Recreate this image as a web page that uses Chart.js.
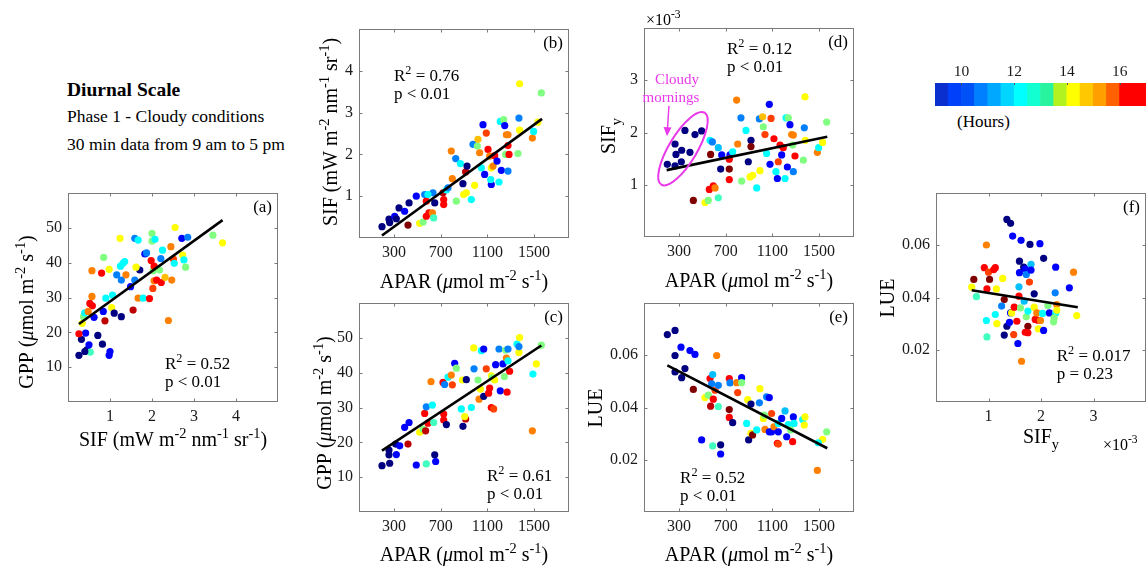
<!DOCTYPE html>
<html>
<head>
<meta charset="utf-8">
<script src="https://cdn.jsdelivr.net/npm/chart.js@4.4.1/dist/chart.umd.min.js"></script>
<style>
body { margin: 0; background: #fff; width: 1146px; height: 566px; overflow: hidden; position: relative;
       font-family: "Liberation Serif", "Times New Roman", serif; }
canvas { position: absolute; }
.txt { position: absolute; white-space: nowrap; color: #000; line-height: 1; }
</style>
</head>
<body>
<div class="txt" style="left:67px;top:80px;font-size:19.5px;font-weight:bold">Diurnal Scale</div>
<div class="txt" style="left:67px;top:108px;font-size:17.5px">Phase 1 - Cloudy conditions</div>
<div class="txt" style="left:67px;top:136px;font-size:17.5px">30 min data from 9 am to 5 pm</div>
<div class="txt" style="left:957px;top:113px;font-size:17px">(Hours)</div>
<script>
// ---- data: [x, y, hour of day] per panel ----
var sifGpp = [[0.26,13.4,9],[0.32,18.0,9],[0.42,19.8,10],[0.26,19.6,16],[0.45,15.0,9],[0.5,16.4,10],[0.53,14.3,12.5],[0.4,14.5,9],[0.71,19.1,9],[0.82,16.6,9],[1.0,14.5,10],[0.98,13.4,10],[0.34,22.6,14],[0.37,24.5,13],[0.4,25.6,12],[0.52,28.3,16],[0.58,27.6,16],[0.48,26,15],[0.57,30.3,15],[0.62,24.3,10],[0.57,37.7,15],[0.8,37,16],[0.85,41.5,13],[0.9,29.8,12],[1.06,30.7,12],[0.98,38.1,14],[1.04,27.1,14],[0.84,26,10],[0.88,23.3,16.5],[1.1,25.5,9],[1.27,24.5,9],[1.24,47,14],[1.16,36.5,11],[1.27,35,11],[1.31,39.8,12],[1.35,40.3,12],[1.25,39,12],[1.38,36.5,15],[1.49,33.1,10],[1.55,26.4,16.5],[1.59,47,11],[1.67,46.5,12],[1.59,35,11],[1.67,29.8,15],[1.71,37.9,9],[1.62,38.7,14],[1.79,29.8,12],[1.83,42.5,10],[1.87,42.8,11],[1.94,29.7,16],[1.98,40.6,16],[2.0,48.4,13],[2.0,46.2,13],[2.07,46.7,12],[2.02,32.6,15.5],[2.03,37.7,13],[2.05,34.8,15],[2.05,39,16],[2.11,35,16],[2.18,37.9,13],[2.22,34.3,16],[2.21,41.2,11],[2.25,43.6,12],[2.31,35.8,14.5],[2.39,23.4,15],[2.45,44.6,15],[2.47,35,15],[2.51,41,15.5],[2.53,39.8,12],[2.55,50.1,14],[2.71,47,10],[2.73,42.2,14],[2.76,40.8,12],[2.8,38.7,13],[2.85,47.3,11],[3.45,47.9,13],[3.68,45.7,14]];
var aparSif = [[197,0.27,9],[257,0.45,9],[263,0.37,9],[306,0.52,10],[320,0.46,9],[343,0.72,9],[391,0.64,10],[429,0.84,9],[491,1.0,10],[563,1.04,11],[634,1.08,11],[577,0.88,16],[591,1.04,12],[649,0.84,9],[420,0.31,17],[520,0.35,14],[549,0.38,13],[577,0.52,16],[600,0.6,16],[629,0.6,15],[640,0.48,12.5],[726,0.92,16],[726,0.8,16],[720,1.08,16.5],[749,1.15,12],[763,1.2,11],[800,1.42,15],[791,2.08,15],[829,1.9,11],[834,0.88,13],[869,1.78,12],[891,1.3,9],[897,1.04,14],[920,1.08,14],[914,1.58,16.5],[926,1.72,9],[963,0.92,12],[991,1.26,14],[977,2.24,11],[1014,2.2,13],[1020,2.36,14.5],[1034,2.04,15],[1049,1.68,12],[1063,2.71,10],[1077,1.52,10],[1091,2.51,15.5],[1106,2.12,16],[1120,1.96,15],[1134,1.68,14],[1149,1.72,15],[1134,1.28,10],[1129,1.4,12],[1163,1.97,16],[1183,1.84,10],[1200,1.34,12],[1211,2.79,12],[1240,2.83,13],[1249,2.69,10],[1220,1.62,10],[1257,2.0,13],[1263,2.47,15],[1277,2.47,15],[1277,2.21,16],[1286,2.0,16],[1277,1.6,11],[1371,2.87,11],[1363,2.02,13],[1377,3.69,14],[1377,2.58,14],[1486,2.39,15],[1497,2.55,12],[1534,2.77,14],[1563,3.47,13]];
var aparGpp = [[197,13.3,9],[257,17.8,9],[257,16.4,9],[263,14.0,9],[314,19.5,9],[320,16.5,10],[349,19.0,10],[391,24.3,10],[429,25.7,10],[420,19.5,16.5],[491,13.5,10],[520,22.9,14],[549,23.8,13],[577,13.8,12.5],[649,16.4,9],[657,14.5,10],[563,28.3,16],[571,23.3,16.5],[577,30.2,11],[629,30.7,12],[591,25.5,16],[617,37.4,15],[640,25.7,12.5],[720,37.2,16],[734,36.6,11],[726,28.1,16],[726,26.4,16],[749,25.1,9],[763,38.7,12],[791,39.3,15],[800,36.5,15.5],[820,42.7,10],[834,41.3,13],[877,29.6,12],[886,37.9,14],[920,38.0,9],[891,24.6,9],[914,26.7,16.5],[906,27.4,14],[963,30.0,12],[983,47.1,14],[986,41.1,11],[1020,37.9,13],[1029,32.4,15],[1040,35.3,14],[1049,46.3,12],[1069,46.8,10],[1069,33.2,9],[1091,41.1,15.5],[1111,34.1,16],[1120,35.6,16],[1134,30.0,16],[1154,29.6,15.5],[1134,39.1,14],[1143,38.5,13],[1163,37.9,14],[1171,42.3,10],[1200,46.8,11],[1211,34.8,10],[1234,42.5,10],[1246,38.9,13],[1257,46.5,13],[1263,44.2,15],[1277,46.8,11],[1277,43.4,12],[1269,34.4,16],[1291,40.4,16],[1354,48.2,12],[1377,50.1,14],[1371,45.8,14],[1371,47.5,11],[1486,23.3,15],[1520,42.5,14],[1491,39.6,12],[1563,47.9,13]];
var aparSify = [[200,1.39,9],[266,1.78,9],[274,1.58,9],[323,1.66,9],[266,1.36,9],[320,1.44,9],[351,2.04,9],[394,1.62,9],[437,1.96,9],[494,2.03,9],[423,0.70,17],[523,0.66,14],[551,0.70,13],[566,1.85,12],[586,1.82,11],[571,1.58,17],[560,0.91,16],[594,0.98,16],[609,0.94,15],[637,0.75,12.5],[637,1.71,11.5],[657,1.30,9],[666,1.57,10],[737,1.57,10],[731,1.30,17],[731,1.10,16],[731,1.49,16],[760,1.63,12],[803,1.78,15],[794,2.62,15],[831,2.28,11],[837,1.07,13],[874,2.04,12],[894,1.44,9],[917,1.85,9],[917,1.73,17],[909,1.15,14],[931,1.18,14],[966,0.94,12],[994,1.27,14],[989,2.26,11],[1017,2.30,14.5],[1023,2.11,13],[1037,1.96,15.5],[1051,1.60,12],[1074,2.54,10],[1080,1.39,10],[1089,2.27,15.5],[1114,1.88,16],[1131,1.25,12],[1143,1.12,10],[1151,1.44,15.5],[1166,1.76,16],[1180,1.57,10],[1194,1.71,16],[1209,1.12,12],[1217,2.28,12],[1229,1.34,10],[1237,2.28,13],[1251,2.15,10],[1266,1.96,15],[1280,1.25,11],[1280,1.95,15],[1274,1.76,13],[1294,1.55,16],[1366,1.47,13],[1380,2.68,14],[1374,2.09,11],[1383,1.85,14],[1486,1.62,15],[1497,1.71,12],[1531,1.81,14],[1566,2.20,13]];
var aparLue = [[200,0.0679,9],[266,0.0695,9],[266,0.0599,9],[317,0.0631,10],[266,0.0536,9],[323,0.0514,9],[351,0.0549,9],[394,0.0618,10],[437,0.0603,10],[423,0.0469,17],[494,0.0276,10],[523,0.0438,14],[551,0.0447,13],[566,0.0511,16],[580,0.0491,11],[589,0.0526,11.5],[571,0.0405,16.5],[594,0.0432,16],[609,0.0466,15.5],[589,0.0253,12.5],[623,0.0599,15],[637,0.0485,11],[637,0.0403,12.5],[657,0.0257,9],[657,0.0222,10],[731,0.0511,16],[737,0.0494,11],[731,0.0392,17],[731,0.0362,16],[760,0.0342,9],[794,0.0495,15],[803,0.0457,15.5],[837,0.0514,10],[837,0.0495,13],[880,0.0339,12],[889,0.0430,14],[897,0.0276,9],[917,0.0413,9],[917,0.0301,14],[931,0.0295,17],[966,0.0314,12],[989,0.0418,11],[994,0.0472,14],[1023,0.0358,14],[1031,0.0371,13],[1051,0.0441,11],[1074,0.0438,10],[1037,0.0316,15],[1074,0.0307,10],[1094,0.0377,15.5],[1094,0.0307,10],[1114,0.0326,15],[1143,0.0263,16],[1151,0.0260,15.5],[1151,0.0339,12],[1151,0.0307,10],[1180,0.0358,10],[1209,0.0387,11.5],[1223,0.0288,10],[1237,0.0335,12],[1257,0.0314,13],[1274,0.0269,16],[1280,0.0364,10],[1286,0.0339,12],[1360,0.0354,12],[1380,0.0364,14],[1374,0.0333,14],[1486,0.0159,15],[1531,0.0278,14],[1494,0.0265,12],[1566,0.0307,13]];
var sifyLue = [[1.35,0.0699,9],[1.42,0.0684,9],[1.46,0.0635,10],[1.62,0.0619,10],[1.79,0.0603,9],[1.98,0.0606,10],[2.05,0.0550,9],[2.28,0.0516,10],[2.54,0.0437,10],[2.62,0.0497,15],[2.68,0.0331,14],[0.96,0.0601,15],[0.72,0.0469,17],[0.68,0.0440,14],[0.77,0.0403,12.5],[0.92,0.0514,16],[1.0,0.0497,15.5],[1.1,0.0507,16],[1.13,0.0514,16],[1.02,0.0469,17],[0.97,0.0433,16],[1.15,0.0433,14],[1.27,0.0473,14],[1.30,0.0392,17],[1.25,0.0367,11],[0.96,0.0312,12],[0.97,0.0249,12.5],[1.13,0.0335,12],[1.16,0.0300,14],[1.30,0.0256,9],[1.35,0.0290,9],[1.40,0.0305,10],[1.42,0.0341,10],[1.44,0.0341,14],[1.48,0.0258,15.5],[1.49,0.0363,16],[1.54,0.0309,16],[1.56,0.0224,10],[1.58,0.0405,16],[1.58,0.0441,11.5],[1.59,0.0539,9],[1.61,0.0360,13],[1.59,0.0495,10],[1.67,0.0516,9],[1.70,0.0510,10],[1.72,0.0488,11],[1.68,0.0386,11.5],[1.72,0.0326,13],[1.75,0.0348,12],[1.75,0.0290,17],[1.75,0.0265,16],[1.70,0.0267,16],[1.78,0.0459,15.5],[1.81,0.0527,11.5],[1.81,0.0505,10],[1.87,0.0414,9],[1.87,0.0363,14],[1.89,0.0316,16],[1.92,0.0341,15],[1.94,0.0313,16],[1.95,0.0280,14],[1.99,0.0312,15],[2.03,0.0339,12],[2.05,0.0274,10],[2.13,0.0369,13],[2.16,0.0341,10],[2.24,0.0307,13],[2.27,0.0418,11],[2.28,0.0341,12],[2.30,0.0373,15],[2.30,0.0351,14],[2.25,0.0322,13],[1.63,0.0156,15]];

// fitted lines (end points)
var fitSifGpp = [[0.26,22.4],[3.68,52.2]];
var fitAparSif = [[197,0.06],[1569,2.85]];
var fitAparGpp = [[197,17.6],[1563,47.8]];
var fitAparSify = [[194,1.28],[1571,1.92]];
var fitAparLue = [[200,0.0561],[1571,0.0244]];
var fitSifyLue = [[0.68,0.0428],[2.70,0.0363]];

var statsR2 = ["0.52", "0.76", "0.61", "0.12", "0.52", "0.017"];
var statsP = ["p < 0.01", "p < 0.01", "p < 0.01", "p < 0.01", "p < 0.01", "p = 0.23"];

// tick labels
var sifTicks = [1, 2, 3, 4];
var gppTicks = [10, 20, 30, 40, 50];
var aparTicks = [300, 700, 1100, 1500];
var sifyTicks = [1, 2, 3];
var lueTicks = [0.02, 0.04, 0.06];

// colour bar
var hourBins = [9.25, 9.75, 10.25, 10.75, 11.25, 11.75, 12.25, 12.75, 13.25, 13.75, 14.25, 14.75, 15.25, 15.75, 16.25, 16.75];
var hourColors = ["#0b2fcf", "#0040fb", "#0052f6", "#0080ff", "#00a8ff", "#00d6ff", "#00ffff", "#12ffd2", "#28f4a0", "#b2f220", "#ffff00", "#ffc800", "#ffa000", "#ff6000", "#ff0000", "#ff0000"];
var hourTicks = [10, 12, 14, 16];

var FONT = '"Liberation Serif", "Times New Roman", serif';
var MAGENTA = "#e938e9";
Chart.defaults.font.family = FONT;

var BOX_W = 210, BOX_H = 209;
var M = { l: 80, t: 22, r: 14, b: 64 };

function jet(h) {
    var t = (h - 9) / 8;
    var c = function (v) { return Math.round(255 * Math.max(0, Math.min(1, v))); };
    return "rgb(" + c(1.5 - Math.abs(4 * t - 3)) + "," + c(1.5 - Math.abs(4 * t - 2)) + "," + c(1.5 - Math.abs(4 * t - 1)) + ")";
}

// text with super/subscripts; parts = [[text, kind], ...]
function drawRich(ctx, parts, x, y, size, align, rot, color) {
    ctx.save();
    ctx.translate(x, y);
    if (rot) ctx.rotate(rot);
    ctx.textBaseline = "alphabetic";
    ctx.textAlign = "left";
    ctx.fillStyle = color || "#000";
    var segs = parts.map(function (p) {
        var small = p[1] == "sup" || p[1] == "sub";
        var font = (p[1] == "it" ? "italic " : "") + (small ? size * 0.72 : size) + "px " + FONT;
        ctx.font = font;
        return { t: p[0], font: font, w: ctx.measureText(p[0]).width,
                 dy: p[1] == "sup" ? -size * 0.42 : (p[1] == "sub" ? size * 0.28 : 0) };
    });
    var total = segs.reduce(function (s, g) { return s + g.w; }, 0);
    var cx = align == "center" ? -total / 2 : (align == "right" ? -total : 0);
    for (var g of segs) {
        ctx.font = g.font;
        ctx.fillText(g.t, cx, g.dy);
        cx += g.w;
    }
    ctx.restore();
}

var gppTitle = [["GPP (", ""], ["\u03bc", "it"], ["mol m", ""], ["-2", "sup"], [" s", ""], ["-1", "sup"], [")", ""]];
var sifTitle = [["SIF (mW m", ""], ["-2", "sup"], [" nm", ""], ["-1", "sup"], [" sr", ""], ["-1", "sup"], [")", ""]];
var aparTitle = [["APAR (", ""], ["\u03bc", "it"], ["mol m", ""], ["-2", "sup"], [" s", ""], ["-1", "sup"], [")", ""]];
var sifyTitle = [["SIF", ""], ["y", "sub"]];
var lueTitle = [["LUE", ""]];
var expLabel = [["\u00d710", ""], ["-3", "sup"]];

function panelDecor(p) {
    return {
        id: "decor" + p.letter,
        afterDraw: function (chart) {
            var ctx = chart.ctx, a = chart.chartArea;
            var xs = chart.scales.x, ys = chart.scales.y;
            var L = Math.round(a.left) + 0.5, T = Math.round(a.top) + 0.5;
            var R = Math.round(a.right) - 0.5, B = Math.round(a.bottom) - 0.5;
            ctx.save();
            ctx.strokeStyle = "#7a7a7a";
            ctx.lineWidth = 1;
            ctx.strokeRect(L, T, R - L, B - T);
            ctx.beginPath();
            p.xTicks.forEach(function (v) {
                var px = Math.round(xs.getPixelForValue(v)) + 0.5;
                ctx.moveTo(px, B); ctx.lineTo(px, B - 3);
                ctx.moveTo(px, T); ctx.lineTo(px, T + 3);
            });
            p.yTicks.forEach(function (v) {
                var py = Math.round(ys.getPixelForValue(v)) + 0.5;
                ctx.moveTo(L, py); ctx.lineTo(L + 3, py);
                ctx.moveTo(R, py); ctx.lineTo(R - 3, py);
            });
            ctx.stroke();
            ctx.restore();

            // panel letter
            drawRich(ctx, [[p.letter, ""]], a.right - 6, a.top + 19, 17, "right");
            // statistics
            var sx = xs.getPixelForValue(p.statAt[0]), sy = ys.getPixelForValue(p.statAt[1]);
            drawRich(ctx, [["R", ""], ["2", "sup"], [" = " + p.r2, ""]], sx, sy, 17, "left");
            drawRich(ctx, [[p.pval, ""]], sx, sy + 18, 17, "left");
            // axis titles
            drawRich(ctx, p.xTitle, (a.left + a.right) / 2, a.bottom + p.xTitleDy, 20, "center");
            drawRich(ctx, p.yTitle, a.left - p.yTitleDx, a.top + p.yTitleCy, 20, "center", -Math.PI / 2);
            if (p.extra) p.extra(ctx, chart);
        }
    };
}

function cloudyNote(ctx, chart) {
    var xs = chart.scales.x, ys = chart.scales.y, a = chart.chartArea;
    drawRich(ctx, expLabel, a.left + 2, a.top - 3, 16, "left");
    drawRich(ctx, [["Cloudy", ""]], xs.getPixelForValue(283), ys.getPixelForValue(2.93), 15, "center", 0, MAGENTA);
    drawRich(ctx, [["mornings", ""]], xs.getPixelForValue(231), ys.getPixelForValue(2.58), 15, "center", 0, MAGENTA);
    var x0 = xs.getPixelForValue(214), y0 = ys.getPixelForValue(2.51);
    var x1 = xs.getPixelForValue(197), y1 = ys.getPixelForValue(1.93);
    var ang = Math.atan2(y1 - y0, x1 - x0);
    ctx.save();
    ctx.strokeStyle = MAGENTA;
    ctx.fillStyle = MAGENTA;
    ctx.lineWidth = 1.4;
    ctx.beginPath();
    ctx.moveTo(x0, y0);
    ctx.lineTo(x1 - 6 * Math.cos(ang), y1 - 6 * Math.sin(ang));
    ctx.stroke();
    ctx.beginPath();
    ctx.moveTo(x1, y1);
    ctx.lineTo(x1 - 9 * Math.cos(ang) + 4 * Math.sin(ang), y1 - 9 * Math.sin(ang) - 4 * Math.cos(ang));
    ctx.lineTo(x1 - 9 * Math.cos(ang) - 4 * Math.sin(ang), y1 - 9 * Math.sin(ang) + 4 * Math.cos(ang));
    ctx.closePath();
    ctx.fill();
    ctx.lineWidth = 2;
    ctx.beginPath();
    ctx.ellipse(xs.getPixelForValue(334), ys.getPixelForValue(1.69), 42, 14, -59 * Math.PI / 180, 0, 2 * Math.PI);
    ctx.stroke();
    ctx.restore();
}

function expNote(ctx, chart) {
    var a = chart.chartArea;
    drawRich(ctx, expLabel, a.right - 43, a.bottom + 48, 16, "left");
}

var panels = [
    { letter: "(a)", box: [68, 193], pts: sifGpp, fit: fitSifGpp, x: [0, 5], y: [0, 60], xTicks: sifTicks, yTicks: gppTicks,
      r2: statsR2[0], pval: statsP[0], statAt: [2.31, 9.5], xTitle: sifTitle, yTitle: gppTitle, xTitleDy: 44, yTitleDx: 35, yTitleCy: 119 },
    { letter: "(b)", box: [359, 29], pts: aparSif, fit: fitAparSif, x: [0, 1800], y: [0, 5], xTicks: aparTicks, yTicks: sifTicks,
      r2: statsR2[1], pval: statsP[1], statAt: [300, 3.76], xTitle: aparTitle, yTitle: sifTitle, xTitleDy: 50, yTitleDx: 22, yTitleCy: 103 },
    { letter: "(c)", box: [359, 303], pts: aparGpp, fit: fitAparGpp, x: [0, 1800], y: [0, 60], xTicks: aparTicks, yTicks: gppTicks,
      r2: statsR2[2], pval: statsP[2], statAt: [1097, 8.9], xTitle: aparTitle, yTitle: gppTitle, xTitleDy: 49, yTitleDx: 28, yTitleCy: 110 },
    { letter: "(d)", box: [644, 28], pts: aparSify, fit: fitAparSify, x: [0, 1800], y: [0, 4], xTicks: aparTicks, yTicks: sifyTicks,
      r2: statsR2[3], pval: statsP[3], statAt: [711, 3.5], xTitle: aparTitle, yTitle: sifyTitle, xTitleDy: 50, yTitleDx: 29, yTitleCy: 108, extra: cloudyNote },
    { letter: "(e)", box: [644, 303], pts: aparLue, fit: fitAparLue, x: [0, 1800], y: [0, 0.08], xTicks: aparTicks, yTicks: lueTicks,
      r2: statsR2[4], pval: statsP[4], statAt: [309, 0.0111], xTitle: aparTitle, yTitle: lueTitle, xTitleDy: 49, yTitleDx: 42, yTitleCy: 105 },
    { letter: "(f)", box: [936, 193], pts: sifyLue, fit: fitSifyLue, x: [0, 4], y: [0, 0.08], xTicks: sifyTicks, yTicks: lueTicks,
      r2: statsR2[5], pval: statsP[5], statAt: [2.30, 0.0157], xTitle: sifyTitle, yTitle: lueTitle, xTitleDy: 41, yTitleDx: 42, yTitleCy: 105, extra: expNote }
];

function addCanvas(left, top, w, h) {
    var cv = document.createElement("canvas");
    cv.width = w; cv.height = h;
    cv.style.left = left + "px"; cv.style.top = top + "px";
    cv.style.width = w + "px"; cv.style.height = h + "px";
    document.body.appendChild(cv);
    return cv;
}

function create_panel(p) {
    var w = M.l + BOX_W + M.r, h = M.t + BOX_H + M.b;
    var cv = addCanvas(p.box[0] - M.l, p.box[1] - M.t, w, h);
    var tickFont = { family: FONT, size: 16 };
    new Chart(cv, {
        type: "scatter",
        data: {
            datasets: [
                { type: "line", data: p.fit.map(function (q) { return { x: q[0], y: q[1] }; }),
                  borderColor: "#000", borderWidth: 2.6, pointRadius: 0, fill: false, order: 0 },
                { data: p.pts.map(function (q) { return { x: q[0], y: q[1] }; }),
                  pointBackgroundColor: p.pts.map(function (q) { return jet(q[2]); }),
                  pointBorderWidth: 0, pointRadius: 3.6, order: 1 }
            ]
        },
        options: {
            responsive: false,
            animation: false,
            events: [],
            layout: { padding: { top: M.t, right: M.r, left: 0, bottom: 0 } },
            plugins: { legend: { display: false }, tooltip: { enabled: false } },
            scales: {
                x: {
                    type: "linear", min: p.x[0], max: p.x[1],
                    grid: { display: false, drawTicks: false }, border: { display: false },
                    ticks: { font: tickFont, color: "#1a1a1a", padding: 5, callback: function (v) { return String(v); } },
                    afterBuildTicks: function (s) { s.ticks = p.xTicks.map(function (v) { return { value: v }; }); },
                    afterFit: function (s) { s.height = M.b; }
                },
                y: {
                    type: "linear", min: p.y[0], max: p.y[1],
                    grid: { display: false, drawTicks: false }, border: { display: false },
                    ticks: { font: tickFont, color: "#1a1a1a", padding: 6, callback: function (v) { return String(v); } },
                    afterBuildTicks: function (s) { s.ticks = p.yTicks.map(function (v) { return { value: v }; }); },
                    afterFit: function (s) { s.width = M.l; }
                }
            }
        },
        plugins: [panelDecor(p)]
    });
}

function create_colorbar() {
    var cv = addCanvas(935, 50, 211, 56);
    new Chart(cv, {
        type: "bar",
        data: {
            datasets: [{ data: hourBins.map(function (hb) { return { x: hb, y: 1 }; }),
                         backgroundColor: hourColors, borderWidth: 0, barPercentage: 1, categoryPercentage: 1 }]
        },
        options: {
            responsive: false,
            animation: false,
            events: [],
            layout: { padding: 0 },
            plugins: { legend: { display: false }, tooltip: { enabled: false } },
            scales: {
                x: {
                    type: "linear", position: "top", min: 9, max: 17, offset: false,
                    grid: { display: false, drawTicks: false, offset: false }, border: { display: false },
                    ticks: { font: { family: FONT, size: 15.5 }, color: "#1a1a1a", padding: 2, callback: function (v) { return String(v); } },
                    afterBuildTicks: function (s) { s.ticks = hourTicks.map(function (v) { return { value: v }; }); },
                    afterFit: function (s) { s.height = 33; }
                },
                y: { display: false, min: 0, max: 1 }
            }
        },
        plugins: [{
            id: "cbTicks",
            afterDraw: function (chart) {
                var ctx = chart.ctx, xs = chart.scales.x, a = chart.chartArea;
                ctx.save();
                ctx.strokeStyle = "#555";
                ctx.beginPath();
                hourTicks.forEach(function (v) {
                    var px = Math.round(xs.getPixelForValue(v)) + 0.5;
                    ctx.moveTo(px, a.top); ctx.lineTo(px, a.top + 2);
                });
                ctx.stroke();
                ctx.restore();
            }
        }]
    });
}

panels.forEach(create_panel);
create_colorbar();
</script>
</body>
</html>
